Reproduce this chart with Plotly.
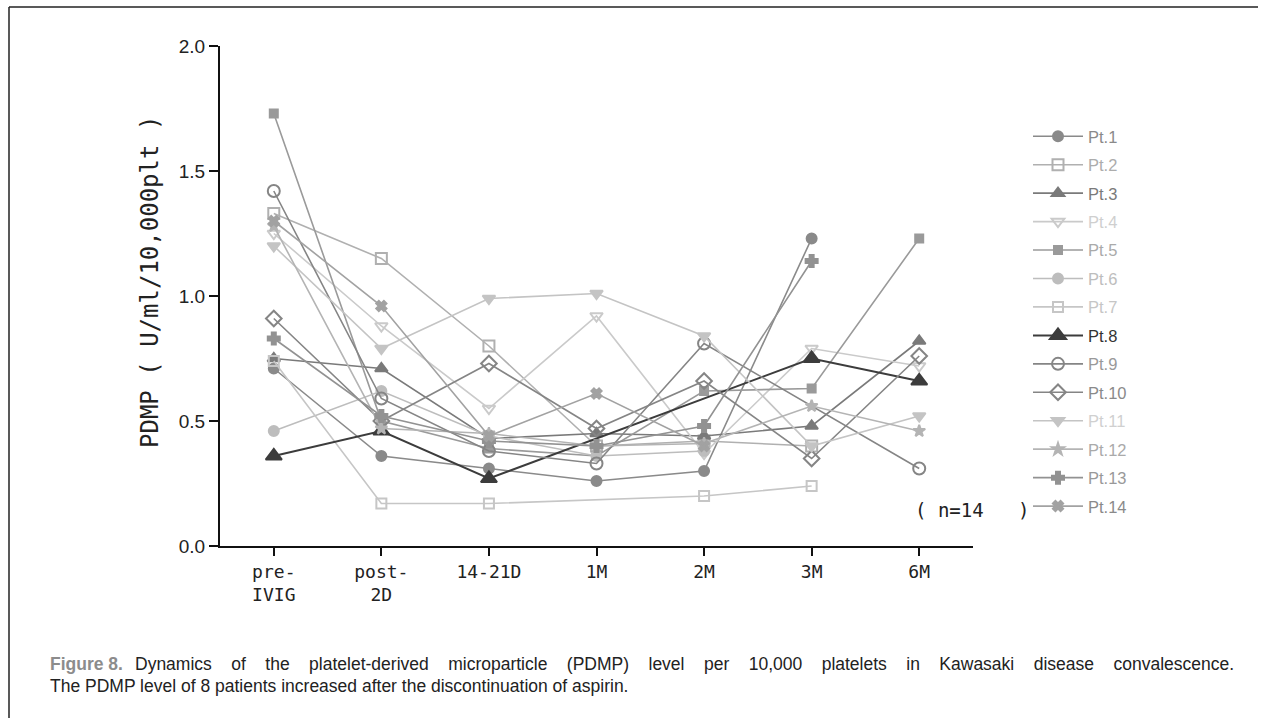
import plotly.graph_objects as go

categories = ["pre-<br>IVIG", "post-<br>2D", "14-21D", "1M", "2M", "3M", "6M"]

pt1 = [0.71, 0.36, 0.31, 0.26, 0.30, 1.23, None]
pt2 = [1.33, 1.15, 0.80, 0.40, 0.42, 0.40, None]
pt3 = [0.75, 0.71, 0.43, 0.45, 0.44, 0.48, 0.82]
pt4 = [1.25, 0.88, 0.55, 0.92, 0.37, 0.79, 0.72]
pt5 = [1.73, 0.50, 0.39, 0.36, 0.62, 0.63, 1.23]
pt6 = [0.46, 0.62, 0.44, 0.36, 0.38, None, None]
pt7 = [0.74, 0.17, 0.17, None, 0.20, 0.24, None]
pt8 = [0.36, 0.46, 0.27, None, None, 0.75, 0.66]
pt9 = [1.42, 0.59, 0.38, 0.33, 0.81, None, 0.31]
pt10 = [0.91, 0.50, 0.73, 0.47, 0.66, 0.35, 0.76]
pt11 = [1.20, 0.79, 0.99, 1.01, 0.84, 0.40, 0.52]
pt12 = [1.28, 0.47, 0.45, 0.40, 0.41, 0.56, 0.46]
pt13 = [0.83, 0.52, 0.42, 0.40, 0.48, 1.14, None]
pt14 = [1.30, 0.96, 0.44, 0.61, 0.40, None, None]

names = ["Pt.1", "Pt.2", "Pt.3", "Pt.4", "Pt.5", "Pt.6", "Pt.7",
         "Pt.8", "Pt.9", "Pt.10", "Pt.11", "Pt.12", "Pt.13", "Pt.14"]
series = [pt1, pt2, pt3, pt4, pt5, pt6, pt7, pt8, pt9, pt10, pt11, pt12, pt13, pt14]

colors = ["#8a8a8a", "#b0b0b0", "#7a7a7a", "#cacaca", "#9a9a9a", "#bdbdbd", "#c6c6c6",
          "#3c3c3c", "#858585", "#858585", "#c4c4c4", "#b4b4b4", "#929292", "#a2a2a2"]
text_colors = ["#8a8a8a", "#acacac", "#7a7a7a", "#cfcfcf", "#aaaaaa", "#bdbdbd", "#c6c6c6",
               "#333333", "#999999", "#8a8a8a", "#d0d0d0", "#aaaaaa", "#999999", "#8a8a8a"]
symbols = ["circle", "square-open", "triangle-up", "triangle-down-open", "square", "circle",
           "square-open", "triangle-up", "circle-open", "diamond-open", "triangle-down",
           "star", "cross", "x"]
sizes = [10, 11, 11, 11, 8, 10, 10, 14, 12, 12, 11, 9, 10, 9]

fig = go.Figure()
for i, (nm, ys) in enumerate(zip(names, series)):
    fig.add_trace(go.Scatter(
        x=categories, y=ys, mode="lines+markers",
        name=f"<span style='color:{text_colors[i]}'>{nm}</span>",
        legendgroup=nm, connectgaps=True,
        line=dict(color=colors[i], width=2 if i == 7 else 1.6),
        marker=dict(symbol=symbols[i], size=sizes[i], color=colors[i],
                    line=dict(color=colors[i], width=2)),
    ))

L, R, T, B = 220, 973, 46, 546
W, H = 1267, 718


def px(x):
    return (x - L) / (R - L)


def py(y):
    return (B - y) / (B - T)


mono = "DejaVu Sans Mono"
sans = "Liberation Sans, Arial, sans-serif"

fig.update_layout(
    width=W, height=H,
    margin=dict(l=L, r=W - R, t=T, b=H - B),
    paper_bgcolor="white", plot_bgcolor="white",
    showlegend=True,
    legend=dict(x=px(1028), y=py(119), xanchor="left", yanchor="top",
                font=dict(family=sans, size=16.5, color="#888"),
                itemwidth=50, tracegroupgap=4, bgcolor="rgba(0,0,0,0)"),
    xaxis=dict(type="category", range=[-0.5, 6.5], showline=True, linecolor="#111",
               linewidth=2, ticks="outside", ticklen=8, tickwidth=2, tickcolor="#111",
               showgrid=False, zeroline=False,
               tickfont=dict(family=mono, size=18, color="#222")),
    yaxis=dict(range=[0, 2.0], showline=True, linecolor="#111", linewidth=2,
               ticks="outside", ticklen=9, tickwidth=2, tickcolor="#111",
               tickvals=[0, 0.5, 1.0, 1.5, 2.0], tickformat=".1f",
               showgrid=False, zeroline=False,
               tickfont=dict(family=sans, size=19, color="#222")),
)

cap_words = ["Dynamics", "of", "the", "platelet-derived", "microparticle", "(PDMP)", "level",
             "per", "10,000", "platelets", "in", "Kawasaki", "disease", "convalescence."]
gap = "\u00a0" * 4

annotations = [
    dict(text="PDMP ( U/ml/10,000plt )", textangle=-90, x=px(150), y=py(282),
         xref="paper", yref="paper", xanchor="center", yanchor="middle", showarrow=False,
         font=dict(family=mono, size=24, color="#222")),
    dict(text="( n=14\u00a0\u00a0\u00a0)", x=px(913), y=py(510), xref="paper", yref="paper",
         xanchor="left", yanchor="middle",
         showarrow=False, font=dict(family=mono, size=19, color="#222")),
    dict(text="<b>Figure 8.</b>", x=px(48), y=py(664), xref="paper", yref="paper",
         xanchor="left", yanchor="middle", showarrow=False,
         font=dict(family=sans, size=17.5, color="#8c8c8c")),
    dict(text=gap.join(cap_words), x=px(133), y=py(664), xref="paper", yref="paper",
         xanchor="left", yanchor="middle", showarrow=False,
         font=dict(family=sans, size=17.5, color="#222")),
    dict(text="The PDMP level of 8 patients increased after the discontinuation of aspirin.",
         x=px(48), y=py(686), xref="paper", yref="paper",
         xanchor="left", yanchor="middle", showarrow=False,
         font=dict(family=sans, size=17.5, color="#222")),
]
fig.update_layout(annotations=annotations)

fig.add_shape(type="line", xref="paper", yref="paper", x0=px(9), x1=px(1258),
              y0=py(7), y1=py(7), line=dict(color="#222", width=1.5))
fig.add_shape(type="line", xref="paper", yref="paper", x0=px(9), x1=px(9),
              y0=py(7), y1=py(718), line=dict(color="#222", width=1.5))

fig.write_html("out.html")
